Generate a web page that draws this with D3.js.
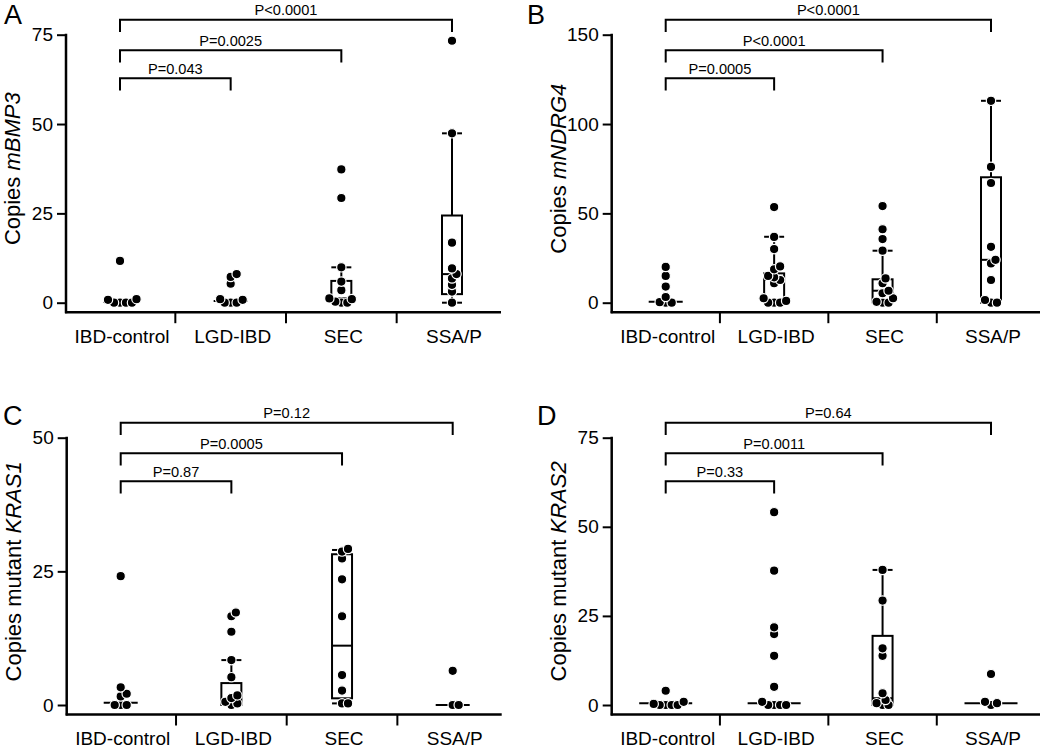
<!DOCTYPE html>
<html>
<head>
<meta charset="utf-8">
<script src="https://cdn.jsdelivr.net/npm/d3@7"></script>
<style>
  html, body { margin: 0; padding: 0; background: #fff; }
  svg { display: block; }
  text { font-family: "Liberation Sans", Arial, Helvetica, sans-serif; fill: #000; }
</style>
</head>
<body>
<svg id="chart" width="1050" height="749"></svg>
<script>
// ---------------- DATA ----------------
const categories = ["IBD-control", "LGD-IBD", "SEC", "SSA/P"];

// Panel A: copies mBMP3
const bmp3Values = [
  [11.7, 1.0, 0.8, 0, 0, 0, 0],
  [8.0, 7.2, 5.3, 1.0, 0.8, 0, 0, 0],
  [37.3, 29.3, 9.9, 5.9, 3.5, 1.2, 1.0, 0.3, 0, 0],
  [73.3, 47.4, 16.8, 9.6, 8.0, 6.8, 5.0, 3.1, 0]
];
// [low whisker, q1, median, q3, high whisker]
const bmp3Box = [
  [0.3, 0.3, 0.3, 0.3, 0.3],
  [0.5, 0.5, 0.5, 0.5, 0.5],
  [0, 0.8, 1.2, 6.1, 9.9],
  [0, 2.4, 8.0, 24.4, 47.4]
];
const bmp3Ticks = [0, 25, 50, 75];
const bmp3P = ["P=0.043", "P=0.0025", "P<0.0001"];

// Panel B: copies mNDRG4
const ndrg4Values = [
  [20, 15, 9, 3.2, 0.3, 0, 0],
  [53.5, 36.8, 30, 20.3, 18.7, 15, 14.2, 12.7, 10.9, 2.5, 1.0, 0, 0, 0],
  [54.1, 41.1, 35.6, 29.1, 13.6, 10.9, 6.7, 5.3, 2.5, 0.5, 0, 0],
  [113, 76, 67, 31.3, 24, 22, 12.7, 1.5, 0, 0]
];
const ndrg4Box = [
  [0.6, 0.6, 0.6, 0.6, 0.6],
  [0, 1.0, 12.7, 16.4, 36.9],
  [0, 0.2, 6.7, 13.1, 29.1],
  [0, 0, 24, 70.2, 113]
];
const ndrg4Ticks = [0, 50, 100, 150];
const ndrg4P = ["P=0.0005", "P<0.0001", "P<0.0001"];

// Panel C: copies mutant KRAS1
const kras1Values = [
  [24.1, 3.3, 2.1, 1.6, 0, 0, 0],
  [17.3, 16.6, 13.7, 8.4, 5.2, 1.8, 1.3, 0.6, 0.3, 0],
  [29.2, 28.7, 27.4, 23.5, 16.6, 5.6, 2.7, 0.3, 0.3],
  [6.4, 0, 0]
];
const kras1Box = [
  [0.4, 0.4, 0.4, 0.4, 0.4],
  [0, 0, 0.6, 4.1, 8.4],
  [0.3, 1.25, 11.1, 28.2, 29.0],
  [0, 0, 0, 0, 0]
];
const kras1Ticks = [0, 25, 50];
const kras1P = ["P=0.87", "P=0.0005", "P=0.12"];

// Panel D: copies mutant KRAS2
const kras2Values = [
  [4.0, 0.9, 0.3, 0, 0, 0, 0],
  [54.1, 37.7, 21.8, 19.9, 13.8, 5.1, 0.9, 0, 0, 0, 0],
  [37.9, 29.3, 15.9, 13.8, 3.3, 1.4, 0.5, 0, 0],
  [8.7, 0.9, 0.5, 0]
];
const kras2Box = [
  [0.5, 0.5, 0.5, 0.5, 0.5],
  [0.5, 0.5, 0.5, 0.5, 0.5],
  [0, 0, 1.9, 19.4, 37.9],
  [0.5, 0.5, 0.5, 0.5, 0.5]
];
const kras2Ticks = [0, 25, 50, 75];
const kras2P = ["P=0.33", "P=0.0011", "P=0.64"];

const panelLetters = ["A", "B", "C", "D"];
const yTitlesPlain = ["Copies ", "Copies ", "Copies mutant ", "Copies mutant "];
const yTitlesItalic = ["mBMP3", "mNDRG4", "KRAS1", "KRAS2"];

// ---------------- LAYOUT ----------------
const panels = [
  { values: bmp3Values, box: bmp3Box, ticks: bmp3Ticks, p: bmp3P, letter: panelLetters[0], t1: yTitlesPlain[0], t2: yTitlesItalic[0],
    ax: 66, axEnd: 501, yTop: 34.7, yZero: 302.7, lx: 4, ly: 24, collapsedW: 34 },
  { values: ndrg4Values, box: ndrg4Box, ticks: ndrg4Ticks, p: ndrg4P, letter: panelLetters[1], t1: yTitlesPlain[1], t2: yTitlesItalic[1],
    ax: 611.7, axEnd: 1040, yTop: 34.7, yZero: 302.7, lx: 527, ly: 24, collapsedW: 34 },
  { values: kras1Values, box: kras1Box, ticks: kras1Ticks, p: kras1P, letter: panelLetters[2], t1: yTitlesPlain[2], t2: yTitlesItalic[2],
    ax: 66.7, axEnd: 501.7, yTop: 437.7, yZero: 705, lx: 3, ly: 425, collapsedW: 34 },
  { values: kras2Values, box: kras2Box, ticks: kras2Ticks, p: kras2P, letter: panelLetters[3], t1: yTitlesPlain[3], t2: yTitlesItalic[3],
    ax: 611.7, axEnd: 1040, yTop: 437.7, yZero: 705, lx: 537, ly: 425, collapsedW: 53 }
];

const svg = d3.select("#chart");
const R = 4.7;
const BOXW = 20;
const LW = 2;

function swarm(vals, y, cx) {
  const pts = vals.map(v => ({ v, py: y(v) })).sort((a, b) => a.v - b.v);
  const placed = [];
  const minD = R * 1.2;
  pts.forEach(p => {
    p.px = cx;
    for (let k = 0; k < 80; k++) {
      const off = k === 0 ? 0 : (k % 2 ? 1 : -1) * Math.ceil(k / 2) * 1.5;
      const px = cx + off;
      if (placed.every(q => Math.hypot(q.px - px, q.py - p.py) >= minD)) { p.px = px; break; }
    }
    placed.push(p);
  });
  return placed;
}

panels.forEach(P => {
  const g = svg.append("g");
  const maxV = P.ticks[P.ticks.length - 1];
  const y = d3.scaleLinear().domain([0, maxV]).range([P.yZero, P.yTop]);
  const x = d3.scalePoint().domain(categories).range([P.ax + 54, P.axEnd - 49]);
  const xAxisY = y(0) + 9.5;

  // Y axis
  const yAxis = d3.axisLeft(y).tickValues(P.ticks).tickSize(9).tickPadding(4).tickFormat(d3.format("d"));
  const ya = g.append("g").attr("transform", `translate(${P.ax},0)`).call(yAxis);
  ya.select(".domain").remove();
  ya.selectAll(".tick line").attr("stroke", "#000").attr("stroke-width", LW);
  ya.selectAll(".tick text").attr("font-size", 19).attr("font-family", "Liberation Sans, Arial, sans-serif").attr("fill", "#000");
  g.append("line").attr("x1", P.ax).attr("x2", P.ax).attr("y1", P.yTop - 1).attr("y2", xAxisY + 1)
    .attr("stroke", "#000").attr("stroke-width", 2.5);

  // X axis
  g.append("line").attr("x1", P.ax - 1).attr("x2", P.axEnd).attr("y1", xAxisY).attr("y2", xAxisY)
    .attr("stroke", "#000").attr("stroke-width", 2.5);
  const cats = categories;
  for (let i = 0; i < cats.length - 1; i++) {
    const xm = (x(cats[i]) + x(cats[i + 1])) / 2;
    g.append("line").attr("x1", xm).attr("x2", xm).attr("y1", xAxisY).attr("y2", xAxisY + 11)
      .attr("stroke", "#000").attr("stroke-width", LW);
  }
  g.selectAll(".xlab").data(cats).enter().append("text")
    .attr("x", d => x(d) + 2).attr("y", xAxisY + 30.5)
    .attr("text-anchor", "middle").attr("font-size", 19).text(d => d);

  // Y title
  const tt = g.append("text")
    .attr("transform", `translate(${P.ax - 46},${(P.yTop + P.yZero) / 2}) rotate(-90)`)
    .attr("text-anchor", "middle").attr("font-size", 22);
  tt.append("tspan").text(P.t1);
  tt.append("tspan").attr("font-style", "italic").text(P.t2);

  // Panel letter
  g.append("text").attr("x", P.lx).attr("y", P.ly).attr("font-size", 27).text(P.letter);

  // Boxes / medians
  P.box.forEach((s, i) => {
    const cx = x(cats[i]);
    const [lo, q1, med, q3, hi] = s;
    if (q3 - q1 < 1e-9) {
      g.append("line").attr("x1", cx - P.collapsedW / 2).attr("x2", cx + P.collapsedW / 2)
        .attr("y1", y(med)).attr("y2", y(med)).attr("stroke", "#000").attr("stroke-width", LW);
      return;
    }
    g.append("line").attr("x1", cx).attr("x2", cx).attr("y1", y(hi)).attr("y2", y(q3))
      .attr("stroke", "#000").attr("stroke-width", LW);
    g.append("line").attr("x1", cx).attr("x2", cx).attr("y1", y(q1)).attr("y2", y(lo))
      .attr("stroke", "#000").attr("stroke-width", LW);
    [lo, hi].forEach(v => {
      g.append("line").attr("x1", cx - BOXW / 2).attr("x2", cx + BOXW / 2).attr("y1", y(v)).attr("y2", y(v))
        .attr("stroke", "#000").attr("stroke-width", LW);
    });
    g.append("rect").attr("x", cx - BOXW / 2).attr("width", BOXW)
      .attr("y", y(q3)).attr("height", y(q1) - y(q3))
      .attr("fill", "none").attr("stroke", "#000").attr("stroke-width", LW);
    g.append("line").attr("x1", cx - BOXW / 2).attr("x2", cx + BOXW / 2).attr("y1", y(med)).attr("y2", y(med))
      .attr("stroke", "#000").attr("stroke-width", LW);
  });

  // Points
  P.values.forEach((vals, i) => {
    const pts = swarm(vals, y, x(cats[i]));
    g.selectAll(null).data(pts).enter().append("circle")
      .attr("cx", d => d.px).attr("cy", d => d.py).attr("r", R)
      .attr("fill", "#000").attr("stroke", "#fff").attr("stroke-width", 1.2);
  });

  // Significance brackets
  const levels = [P.yTop + 43.5, P.yTop + 15.5, P.yTop - 15];
  P.p.forEach((label, k) => {
    const x1 = x(cats[0]), x2 = x(cats[k + 1]);
    const by = levels[k];
    g.append("path").attr("d", `M${x1},${by + 12.3}V${by}H${x2}V${by + 12.3}`)
      .attr("fill", "none").attr("stroke", "#000").attr("stroke-width", LW);
    g.append("text").attr("x", (x1 + x2) / 2).attr("y", by - 4.7)
      .attr("text-anchor", "middle").attr("font-size", 14.6).text(label);
  });
});
</script>
</body>
</html>
